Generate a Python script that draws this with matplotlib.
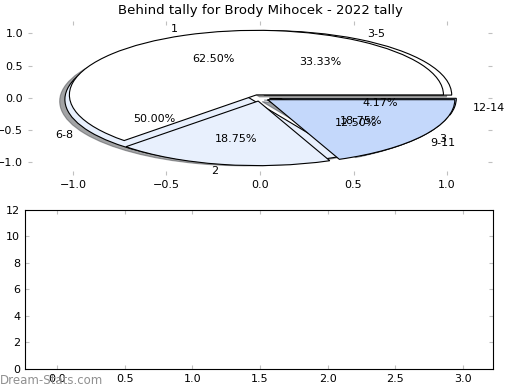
import matplotlib
matplotlib.use('Agg')
import matplotlib.pyplot as plt

plt.rc('font', size=8)

title = 'Behind tally for Brody Mihocek - 2022 tally'

# behinds per game, first grouping
labels_a = ['3-5', '6-8', '9-11', '12-14']
counts_a = [8, 12, 3, 1]
colors_a = ['#ffffff', '#e8f0fd', '#c4d8fb', '#a9c6f8']

# second grouping, drawn on top
labels_b = ['1', '2', '3']
counts_b = [10, 3, 3]
colors_b = ['#ffffff', '#e8f0fd', '#c4d8fb']

fig = plt.figure(figsize=(5.2, 3.9), dpi=100)
ax = fig.add_axes([0.054, 0.552, 0.892, 0.394])
ax2 = fig.add_axes([0.048, 0.054, 0.900, 0.408])

wp = {'edgecolor': 'black', 'linewidth': 0.8}
ax.pie(counts_a, labels=labels_a, colors=colors_a, autopct='%.2f%%',
       explode=[0.05] * len(counts_a), shadow=True, wedgeprops=wp, frame=True)
ax.pie(counts_b, labels=labels_b, colors=colors_b, autopct='%.2f%%',
       explode=[0.05] * len(counts_b), shadow=False, wedgeprops=wp, frame=True)
ax.set_aspect('auto')
ax.set_xlim(-1.24, 1.24)
ax.set_ylim(-1.19, 1.19)
ax.set_xticks([-1.0, -0.5, 0.0, 0.5, 1.0])
ax.set_yticks([-1.0, -0.5, 0.0, 0.5, 1.0])
for s in ax.spines.values():
    s.set_visible(False)
ax.tick_params(direction='in', color='#c0c0c0', top=True, right=True, length=3)
ax.set_title(title, fontsize=9.5, pad=5)

# empty lower panel
ax2.set_xlim(-0.236, 3.22)
ax2.set_ylim(0, 12)
ax2.set_xticks([0.0, 0.5, 1.0, 1.5, 2.0, 2.5, 3.0])
ax2.set_yticks(range(0, 13, 2))
ax2.tick_params(direction='in', color='#c0c0c0', top=True, right=True, length=3)

fig.text(0.0, 0.015, 'Dream-Stats.com', color='#909090', fontsize=8.5)

plt.savefig('out.png', dpi=100)
